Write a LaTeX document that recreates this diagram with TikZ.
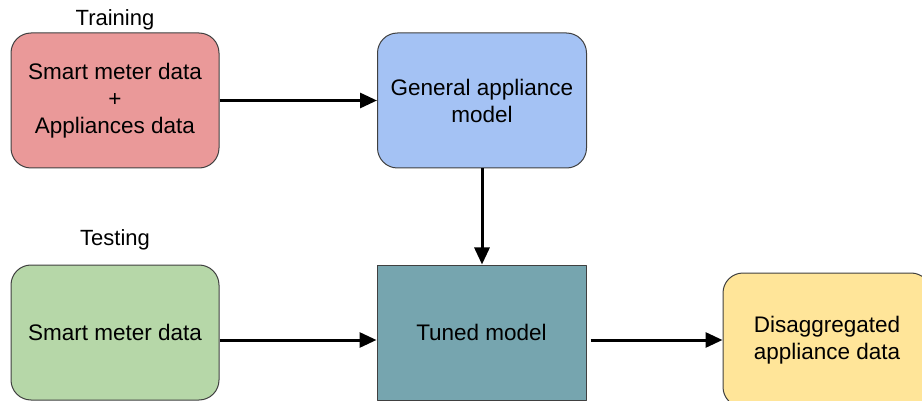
\documentclass[tikz,border=0pt]{standalone}
\usepackage{fontspec}
\setmainfont{Liberation Sans}
\usetikzlibrary{arrows.meta}

\definecolor{trainred}{HTML}{EA9999}
\definecolor{generalblue}{HTML}{A4C2F4}
\definecolor{testgreen}{HTML}{B6D7A8}
\definecolor{tunedteal}{HTML}{76A5AF}
\definecolor{outyellow}{HTML}{FFE599}

\begin{document}
\begin{tikzpicture}[x=1pt, y=-1pt, line join=round,
    block/.style={draw=black!75, line width=1pt, rounded corners=20pt, minimum width=208pt,
        minimum height=135pt, align=center, inner sep=2pt, font=\fontsize{22.5}{27}\selectfont},
    caption/.style={font=\fontsize{22}{26}\selectfont, inner sep=0pt},
    flow/.style={-{Triangle[length=17pt,width=15pt]}, line width=3pt}]
    \useasboundingbox (0,0) rectangle (922,401);
    \clip (0,0) rectangle (922,401);

    % --- 1. Training branch ---
    \node[caption] (training) at (115,20) {Training};
    \node[block, fill=trainred] (meterapp) at (115,100.5) {Smart meter data\\+\\Appliances data};
    \node[block, fill=generalblue, minimum width=209pt] (general) at (482,100.5) {General appliance\\model};

    % --- 2. Testing branch ---
    \node[caption] (testing) at (115,240) {Testing};
    \node[block, fill=testgreen] (meter) at (115,332.5) {Smart meter data};
    \node[block, fill=tunedteal, rounded corners=0pt, minimum width=209pt] (tuned) at (481.5,332.5) {Tuned model};

    % --- 3. Output ---
    \node[block, fill=outyellow, minimum height=134pt] (disagg) at (827,340) {Disaggregated\\appliance data};

    % --- 4. Connectors ---
    \draw[flow] (meterapp) -- (general);
    \draw[flow] (general.south) -- (general.south |- tuned.north);
    \draw[flow] ([yshift=-7.5pt]meter.east) -- ([yshift=-7.5pt]tuned.west);
    \draw[flow] ([xshift=4pt,yshift=-7.5pt]tuned.east) -- (disagg.west);
\end{tikzpicture}
\end{document}
